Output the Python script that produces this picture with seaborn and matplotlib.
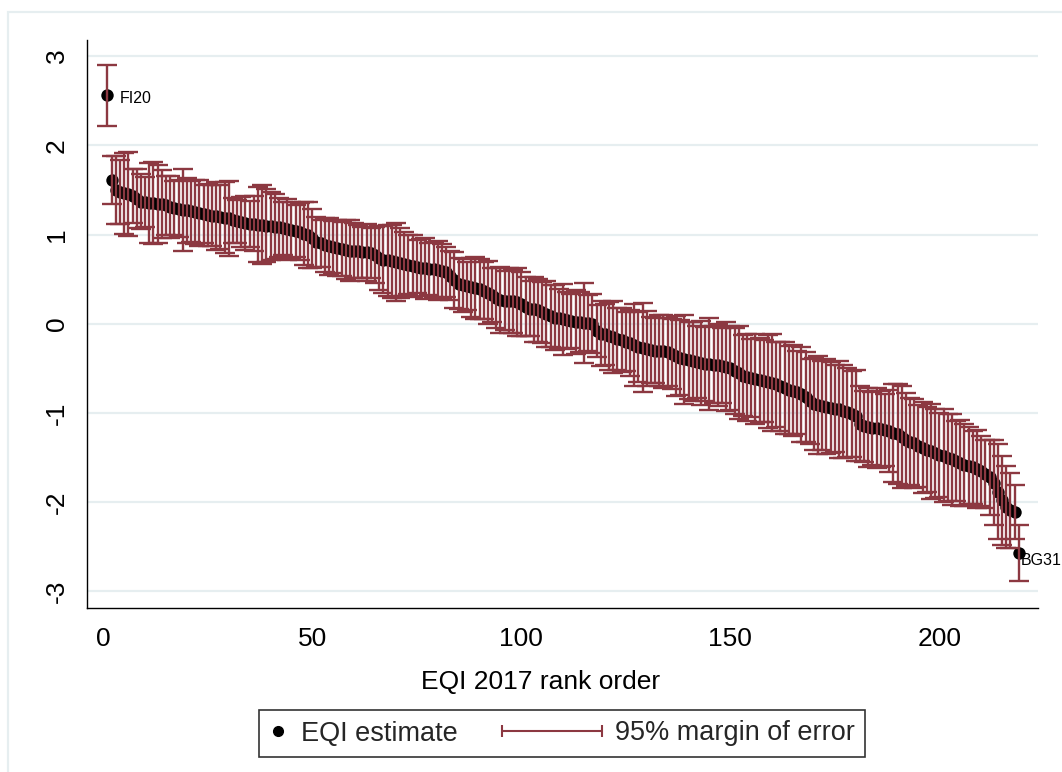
import numpy as np
import pandas as pd
import matplotlib
matplotlib.use("Agg")
import matplotlib.pyplot as plt
from matplotlib.lines import Line2D
from matplotlib.legend_handler import HandlerBase, HandlerLine2D
from matplotlib.patches import Rectangle
import seaborn as sns

# ---------------- data ----------------
eqi_estimate = [
    2.56, 1.61, 1.50, 1.48, 1.46, 1.45, 1.43, 1.40, 1.37, 1.36,
    1.35, 1.35, 1.34, 1.34, 1.33, 1.31, 1.30, 1.29, 1.28, 1.27,
    1.26, 1.25, 1.24, 1.23, 1.22, 1.21, 1.21, 1.20, 1.19, 1.18,
    1.16, 1.15, 1.14, 1.13, 1.12, 1.12, 1.11, 1.11, 1.10, 1.10,
    1.09, 1.08, 1.07, 1.06, 1.05, 1.04, 1.03, 1.01, 0.99, 0.96,
    0.92, 0.90, 0.88, 0.87, 0.86, 0.85, 0.84, 0.83, 0.82, 0.82,
    0.81, 0.80, 0.80, 0.79, 0.77, 0.74, 0.72, 0.71, 0.70, 0.69,
    0.68, 0.67, 0.66, 0.65, 0.64, 0.63, 0.62, 0.61, 0.61, 0.60,
    0.59, 0.58, 0.54, 0.49, 0.45, 0.43, 0.42, 0.41, 0.40, 0.39,
    0.37, 0.35, 0.32, 0.29, 0.27, 0.26, 0.26, 0.25, 0.24, 0.22,
    0.19, 0.17, 0.16, 0.15, 0.13, 0.11, 0.09, 0.07, 0.06, 0.05,
    0.04, 0.03, 0.02, 0.02, 0.01, 0.01, 0.00, -0.08, -0.11, -0.12,
    -0.14, -0.15, -0.17, -0.18, -0.20, -0.22, -0.24, -0.26, -0.27, -0.28,
    -0.29, -0.30, -0.30, -0.31, -0.32, -0.34, -0.36, -0.38, -0.40, -0.41,
    -0.42, -0.43, -0.44, -0.45, -0.45, -0.46, -0.46, -0.47, -0.48, -0.50,
    -0.53, -0.55, -0.58, -0.60, -0.61, -0.62, -0.63, -0.64, -0.65, -0.66,
    -0.68, -0.70, -0.72, -0.74, -0.75, -0.77, -0.79, -0.82, -0.87, -0.90,
    -0.91, -0.92, -0.93, -0.94, -0.95, -0.96, -0.98, -0.99, -1.01, -1.03,
    -1.12, -1.15, -1.16, -1.17, -1.17, -1.18, -1.19, -1.20, -1.22, -1.24,
    -1.27, -1.30, -1.32, -1.34, -1.37, -1.39, -1.41, -1.43, -1.45, -1.47,
    -1.48, -1.50, -1.52, -1.54, -1.56, -1.58, -1.59, -1.61, -1.63, -1.65,
    -1.68, -1.72, -1.78, -1.88, -1.98, -2.05, -2.09, -2.11, -2.57,
]

margin_95 = [
    0.34, 0.27, 0.38, 0.36, 0.45, 0.47, 0.30, 0.33, 0.31, 0.28,
    0.45, 0.46, 0.44, 0.38, 0.33, 0.35, 0.30, 0.32, 0.46, 0.36,
    0.34, 0.36, 0.37, 0.33, 0.35, 0.34, 0.38, 0.36, 0.40, 0.42,
    0.25, 0.24, 0.28, 0.30, 0.26, 0.31, 0.42, 0.44, 0.41, 0.38,
    0.36, 0.33, 0.30, 0.34, 0.31, 0.29, 0.32, 0.35, 0.37, 0.33,
    0.28, 0.26, 0.30, 0.32, 0.29, 0.31, 0.30, 0.33, 0.34, 0.31,
    0.30, 0.29, 0.32, 0.28, 0.31, 0.36, 0.38, 0.40, 0.41, 0.44,
    0.39, 0.36, 0.33, 0.35, 0.30, 0.32, 0.34, 0.29, 0.31, 0.33,
    0.30, 0.28, 0.27, 0.31, 0.29, 0.30, 0.27, 0.33, 0.35, 0.34,
    0.32, 0.35, 0.30, 0.34, 0.37, 0.33, 0.36, 0.35, 0.38, 0.36,
    0.33, 0.31, 0.36, 0.35, 0.34, 0.37, 0.35, 0.36, 0.33, 0.40,
    0.32, 0.30, 0.36, 0.34, 0.45, 0.31, 0.33, 0.29, 0.36, 0.34,
    0.38, 0.40, 0.35, 0.36, 0.33, 0.37, 0.46, 0.39, 0.50, 0.42,
    0.37, 0.36, 0.40, 0.41, 0.38, 0.39, 0.45, 0.42, 0.50, 0.43,
    0.44, 0.40, 0.47, 0.41, 0.52, 0.43, 0.46, 0.42, 0.50, 0.47,
    0.48, 0.52, 0.45, 0.49, 0.44, 0.50, 0.47, 0.46, 0.52, 0.54,
    0.48, 0.50, 0.52, 0.49, 0.51, 0.47, 0.53, 0.50, 0.48, 0.52,
    0.55, 0.50, 0.53, 0.51, 0.49, 0.54, 0.52, 0.50, 0.48, 0.51,
    0.42, 0.40, 0.44, 0.41, 0.45, 0.43, 0.40, 0.46, 0.55, 0.56,
    0.57, 0.52, 0.49, 0.50, 0.46, 0.51, 0.48, 0.53, 0.50, 0.47,
    0.52, 0.49, 0.51, 0.45, 0.48, 0.46, 0.43, 0.41, 0.44, 0.39,
    0.38, 0.42, 0.48, 0.53, 0.50, 0.46, 0.42, 0.30, 0.31,
]

rank = list(range(1, len(eqi_estimate) + 1))
labelled_regions = {1: "FI20", len(eqi_estimate): "BG31"}

x_ticks = [0, 50, 100, 150, 200]
y_ticks = [-3, -2, -1, 0, 1, 2, 3]
x_title = "EQI 2017 rank order"
legend_labels = ["EQI estimate", "95% margin of error"]

df = pd.DataFrame({"rank": rank, "eqi": eqi_estimate, "moe": margin_95})

# ---------------- style ----------------
sns.set_theme(style="white")
plt.rcParams["font.family"] = ["Liberation Sans", "DejaVu Sans"]

BAR = "#8c3841"
GRID = "#e6eef0"

W, H = 1062, 772
fig = plt.figure(figsize=(W / 100, H / 100), dpi=100)
fig.patch.set_facecolor("white")
ax = fig.add_axes([87 / W, 1 - 608 / H, (1038 - 87) / W, (608 - 40) / H])
ax.set_facecolor("white")

# outer graph-region frame (light)
fig.add_artist(Rectangle((8 / W, -0.1), 1.2, (H - 12) / H + 0.1,
                         transform=fig.transFigure, fill=False,
                         edgecolor=GRID, linewidth=1.6, zorder=0))

# grid lines
for yv in y_ticks:
    ax.axhline(yv, color=GRID, lw=1.6, zorder=0)

sns.scatterplot(data=df, x="rank", y="eqi", color="black", s=80,
                linewidth=0, edgecolor="black", ax=ax, zorder=2, legend=False)
ax.errorbar(df["rank"], df["eqi"], yerr=df["moe"], fmt="none",
            ecolor=BAR, elinewidth=1.7, capsize=7, capthick=1.7, zorder=3)

# labels for extremes
offsets = {1: (9, -2), len(eqi_estimate): (1.5, -5)}
for r, txt in labelled_regions.items():
    ax.annotate(txt, (r, eqi_estimate[r - 1]), xytext=offsets[r],
                textcoords="offset points", ha="left", va="center",
                fontsize=11.5, color="black", annotation_clip=False)

ax.set_xlim(-3.9, 223.6)
ax.set_ylim(-3.185, 3.18)
ax.set_xticks(x_ticks)
ax.set_yticks(y_ticks)
ax.set_xticklabels([str(v) for v in x_ticks], fontsize=19)
ax.set_yticklabels([str(v) for v in y_ticks], fontsize=19, rotation=90, va="center")
ax.tick_params(axis="both", direction="out", length=8, width=1.0, color="black",
               labelcolor="black")
ax.tick_params(axis="x", pad=6)
ax.tick_params(axis="y", pad=5)
for s in ["top", "right"]:
    ax.spines[s].set_visible(False)
for s in ["left", "bottom"]:
    ax.spines[s].set_color("black")
    ax.spines[s].set_linewidth(1.0)

ax.set_xlabel(x_title, fontsize=19, color="black", va="center")
ax.xaxis.set_label_coords((541 - 87) / (1038 - 87), -(682 - 608) / (608 - 40))
ax.set_ylabel("")


# ---------------- legend ----------------
class RcapHandler(HandlerBase):
    def __init__(self, extend=53, **kw):
        super().__init__(**kw)
        self.extend = extend

    def create_artists(self, legend, orig_handle, xdescent, ydescent,
                       width, height, fontsize, trans):
        y = height / 2 - ydescent
        x0 = -xdescent - self.extend
        x1 = width - xdescent
        line = Line2D([x0, x1], [y, y], color=BAR, lw=1.5)
        caps = Line2D([x0, x1], [y, y], ls="none", marker="|", ms=9,
                      mew=1.5, color=BAR)
        line.set_transform(trans)
        caps.set_transform(trans)
        return [line, caps]


h_dot = Line2D([], [], ls="none", marker="o", ms=7, color="black")
h_bar = Line2D([], [], color=BAR)
leg = fig.legend([h_dot, h_bar], legend_labels, loc="center",
                 bbox_to_anchor=(562 / W, 1 - 733.5 / H), ncol=2,
                 fontsize=19.5, frameon=True, fancybox=False, shadow=False,
                 edgecolor="black", handlelength=0.7, handletextpad=0.5,
                 columnspacing=4.6, borderpad=0.38, borderaxespad=0,
                 handler_map={h_dot: HandlerLine2D(numpoints=1),
                              h_bar: RcapHandler(extend=58)})
leg.get_frame().set_linewidth(1.2)

fig.savefig("out.png", dpi=100, facecolor="white")
